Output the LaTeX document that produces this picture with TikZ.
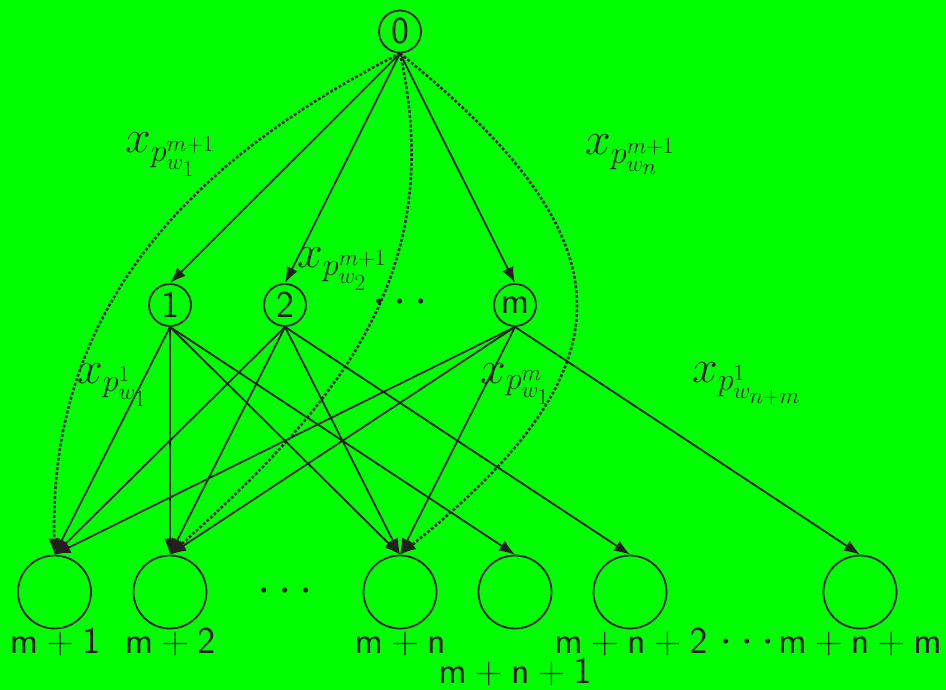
\documentclass[tikz,border=0pt]{standalone}
\usepackage{fix-cm}
\usetikzlibrary{arrows.meta}
\definecolor{ink}{RGB}{35,31,32}
\definecolor{bg}{RGB}{0,255,0}
\begin{document}
\begin{tikzpicture}[x=1pt,y=-1pt,
  every node/.style={text=ink},
  top/.style={circle,draw=ink,line width=1.8pt,minimum size=42pt,inner sep=0pt,font=\fontsize{38}{42}\selectfont},
  bot/.style={circle,draw=ink,line width=1.8pt,minimum size=73pt,inner sep=0pt},
  lab/.style={anchor=base,inner sep=0pt,font=\fontsize{38}{42}\selectfont},
  wlab/.style={anchor=base west,inner sep=0pt,font=\fontsize{46}{50}\selectfont},
  ellip/.style={inner sep=0pt,font=\fontsize{48}{50}\selectfont},
  arr/.style={draw=ink,line width=1.8pt,-{Latex[length=16pt,width=12pt]}},
  dotarr/.style={arr,line width=2.6pt,dash pattern=on 2.8pt off 2pt}]
\fill[bg] (0,0) rectangle (946,690);
\useasboundingbox (0,0) rectangle (946,690);
% upper nodes
\node[top] (n0) at (400,31.5) {$\mathsf{0}$};
\node[top] (n1) at (170,305) {$\mathsf{1}$};
\node[top] (n2) at (285,305) {$\mathsf{2}$};
\node[top] (nm) at (515,305) {$\mathsf{m}$};
\node[ellip] (d1) at (400,303) {$\cdots$};
% lower nodes
\node[bot] (b1) at (54.5,592) {};
\node[bot] (b2) at (170,592) {};
\node[bot] (bn) at (400,592) {};
\node[bot] (bn1) at (515,592) {};
\node[bot] (bn2) at (630,592) {};
\node[bot] (bnm) at (860,592) {};
\node[ellip] (d2) at (285,592) {$\cdots$};
% lower labels
\node[lab] (l1) at (55,653) {$\mathsf{m+1}$};
\node[lab] (l2) at (170,653) {$\mathsf{m+2}$};
\node[lab] (l3) at (400,653) {$\mathsf{m+n}$};
\node[lab] (l4) at (515,683) {$\mathsf{m+n+1}$};
\node[lab] (l5) at (631,653) {$\mathsf{m+n+2}$};
\node[ellip] (d3) at (747,643) {$\cdots$};
\node[lab] (l6) at (860,653) {$\mathsf{m+n+m}$};
% edges from 0
\foreach \t in {n1,n2,nm} \draw[arr] (n0.south) -- (\t.north);
\foreach \t in {b1,b2,bn,bn1} \draw[arr] (n1.south) -- (\t.north);
\foreach \t in {b1,b2,bn,bn2} \draw[arr] (n2.south) -- (\t.north);
\foreach \t in {b1,b2,bn,bnm} \draw[arr] (nm.south) -- (\t.north);
% dotted curves
\draw[dotarr] (n0.south) .. controls (130,190) and (50,360) .. (b1.north);
\draw[dotarr] (n0.south) .. controls (450,280) and (330,410) .. (b2.north);
\draw[dotarr] (n0.south) .. controls (634,242) and (634,366) .. (bn.north);
% edge labels
\node[wlab] (w1) at (125,153) {$x_{p_{w_1}^{m+1}}$};
\node[wlab] (w2) at (585,155) {$x_{p_{w_n}^{m+1}}$};
\node[wlab] (w3) at (297,267) {$x_{p_{w_2}^{m+1}}$};
\node[wlab] (w4) at (77,383) {$x_{p_{w_1}^1}$};
\node[wlab] (w5) at (480,383) {$x_{p_{w_1}^m}$};
\node[wlab] (w6) at (692,382) {$x_{p_{w_{n+m}}^1}$};
\end{tikzpicture}
\end{document}
